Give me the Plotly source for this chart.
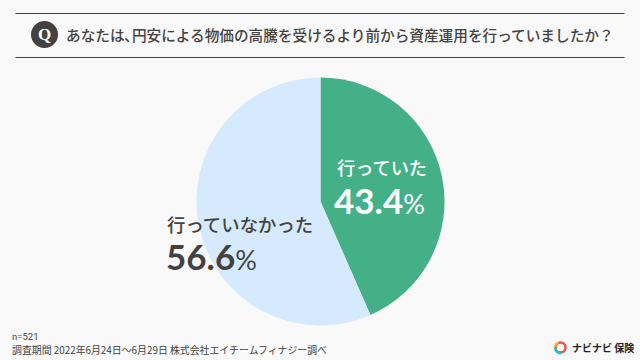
import plotly.graph_objects as go

labels = ["行っていた", "行っていなかった"]
values = [43.4, 56.6]
colors = ["#44B088", "#D5EAFE"]
title_text = "あなたは､円安による物価の高騰を受けるより前から資産運用を行っていましたか？"
note_n = "n=521"
note_period = "調査期間 2022年6月24日～6月29日 株式会社エイチームフィナジー調べ"
logo_text = "ナビナビ 保険"

W, H = 640, 360
BG = "#F9F9F9"
INK = "#444240"
JP = "Noto Sans CJK JP"


def px(x):
    return x / W


def py(y):
    return 1 - y / H


fig = go.Figure()
fig.add_trace(go.Pie(
    labels=labels, values=values, sort=False, direction="clockwise", rotation=0,
    marker=dict(colors=colors, line=dict(width=0)), textinfo="none", hoverinfo="label+percent",
    showlegend=False,
    domain=dict(x=[px(196.5), px(444.5)], y=[py(325.5), py(77.5)]),
))


def text(x, y, s, size, color=INK, anchor="left", family=JP, weight=400):
    fig.add_annotation(xref="paper", yref="paper", x=px(x), y=py(y), text=s, showarrow=False,
                       xanchor=anchor, yanchor="middle", align="left",
                       font=dict(size=size, color=color, family=family, weight=weight))


def pct(value):
    return f"<b>{value}</b><span style='font-size:27px'>%</span>"


text(63.5, 34, title_text, 14.65, weight=500)
text(44.5, 34.5, "<b>Q</b>", 17, "#FFFFFF", "center", "Liberation Serif")
text(334.5, 167, labels[0], 18.2, "#FFFFFF", weight=500)
text(332, 200, pct(values[0]), 35, "#FFFFFF", family="Lato")
text(164.5, 224, labels[1], 18.4, weight=500)
text(164, 256, pct(values[1]), 35, family="Lato")
text(10, 336, note_n, 9.5, family="Roboto")
text(10, 350, note_period, 9.9)
text(569.5, 347, "<b>" + logo_text + "</b>", 10, "#222222")

rule = dict(color=INK, width=1)
fig.update_layout(
    width=W, height=H, paper_bgcolor=BG, plot_bgcolor=BG, margin=dict(l=0, r=0, t=0, b=0),
    shapes=[
        dict(type="line", xref="paper", yref="paper", x0=px(15.5), x1=px(624.5), y0=py(13.5), y1=py(13.5), line=rule),
        dict(type="line", xref="paper", yref="paper", x0=px(15.5), x1=px(624.5), y0=py(57.5), y1=py(57.5), line=rule),
        dict(type="circle", xref="paper", yref="paper", x0=px(31), x1=px(58), y0=py(48), y1=py(21), fillcolor=INK, line=dict(width=0)),
        dict(type="circle", xref="paper", yref="paper", x0=px(555.5), x1=px(565.5), y0=py(352.5), y1=py(342.5), fillcolor="rgba(0,0,0,0)", line=dict(color="#F0503C", width=2.5)),
        dict(type="path", xref="paper", yref="paper", path=f"M {px(554.5)} {py(347)} L {px(555.5)} {py(343)} L {px(559)} {py(341.5)} Z", fillcolor="#F5C542", line=dict(color="#F5C542", width=1)),
        dict(type="path", xref="paper", yref="paper", path=f"M {px(555)} {py(348)} Q {px(556)} {py(353)} {px(561)} {py(353.5)}", line=dict(color="#28C0C8", width=2.5)),
    ],
)
fig.write_html("out.html", config=dict(displayModeBar=False),
               post_script="document.body.style.margin='0';document.body.style.overflow='hidden';")
